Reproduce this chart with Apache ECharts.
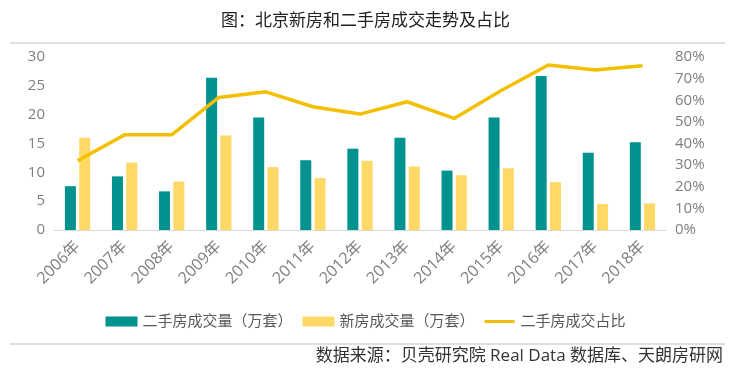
<!DOCTYPE html>
<html>
<head>
<meta charset="utf-8">
<script src="https://cdn.jsdelivr.net/npm/echarts@6/dist/echarts.min.js"></script>
<style>
  html, body { margin: 0; padding: 0; background: #fff; }
  #main { width: 731px; height: 377px; }
</style>
</head>
<body>
<div id="main"></div>
<script>
var years = ['2006年', '2007年', '2008年', '2009年', '2010年', '2011年', '2012年',
             '2013年', '2014年', '2015年', '2016年', '2017年', '2018年'];
// 二手房成交量（万套）
var resale = [7.6, 9.3, 6.7, 26.4, 19.5, 12.1, 14.1, 16.0, 10.3, 19.5, 26.7, 13.4, 15.2];
// 新房成交量（万套）
var newHome = [16.0, 11.7, 8.4, 16.4, 10.9, 9.0, 12.0, 11.0, 9.5, 10.7, 8.3, 4.5, 4.6];
// 二手房成交占比（%）
var share = [32, 44, 44, 61.3, 63.9, 57, 53.6, 59.3, 51.6, 64.5, 76.3, 74, 75.9];

var font = '"Open Sans", "Noto Sans CJK SC", sans-serif';
var myChart = echarts.init(document.getElementById('main'));

var option = {
    backgroundColor: '#fff',
    title: {
        text: '图：北京新房和二手房成交走势及占比',
        left: 'center',
        top: 8,
        textStyle: { fontSize: 17, fontWeight: 'normal', color: '#222', fontFamily: font }
    },
    grid: { left: 54, right: 65, top: 57, bottom: 147 },
    legend: {
        top: 309,
        left: 'center',
        itemWidth: 32,
        itemHeight: 10,
        itemGap: 10,
        textStyle: { fontSize: 15, color: '#595959', fontFamily: font },
        data: [
            { name: '二手房成交量（万套）', icon: 'rect' },
            { name: '新房成交量（万套）', icon: 'rect' },
            // thin bar for the line entry, the outer moves keep the box 30x10
            { name: '二手房成交占比', icon: 'path://M0,0 M0,3.5 L30,3.5 L30,6.5 L0,6.5 Z M30,10' }
        ]
    },
    xAxis: {
        type: 'category',
        data: years,
        axisLine: { lineStyle: { color: '#d9d9d9' } },
        axisTick: { show: false },
        axisLabel: { rotate: 45, fontSize: 16, color: '#7f7f7f', margin: 14, fontFamily: font }
    },
    yAxis: [{
        type: 'value',
        min: 0,
        max: 30,
        interval: 5,
        splitLine: { show: false },
        axisLine: { show: false },
        axisLabel: { fontSize: 15, color: '#7f7f7f', margin: 9, fontFamily: font }
    }, {
        type: 'value',
        min: 0,
        max: 80,
        interval: 10,
        splitLine: { show: false },
        axisLine: { show: false },
        axisLabel: { formatter: '{value}%', fontSize: 15, color: '#7f7f7f', margin: 9, fontFamily: font }
    }],
    series: [{
        name: '二手房成交量（万套）',
        type: 'bar',
        data: resale,
        barWidth: 11,
        barGap: '30%',
        itemStyle: { color: '#00928f' }
    }, {
        name: '新房成交量（万套）',
        type: 'bar',
        data: newHome,
        barWidth: 11,
        itemStyle: { color: '#ffd966' }
    }, {
        name: '二手房成交占比',
        type: 'line',
        yAxisIndex: 1,
        data: share,
        symbol: 'none',
        lineStyle: { width: 3.5, color: '#f2c000' },
        itemStyle: { color: '#f2c000' }
    }],
    graphic: [{
        type: 'line',
        shape: { x1: 10, y1: 43, x2: 725, y2: 43 },
        style: { stroke: '#bfbfbf', lineWidth: 1 }
    }, {
        type: 'line',
        shape: { x1: 10, y1: 344, x2: 725, y2: 344 },
        style: { stroke: '#bfbfbf', lineWidth: 1 }
    }, {
        type: 'text',
        right: 8,
        top: 348,
        style: { text: '数据来源：贝壳研究院 Real Data 数据库、天朗房研网', fontSize: 17, fill: '#333', fontFamily: font }
    }]
};
myChart.setOption(option);
</script>
</body>
</html>
